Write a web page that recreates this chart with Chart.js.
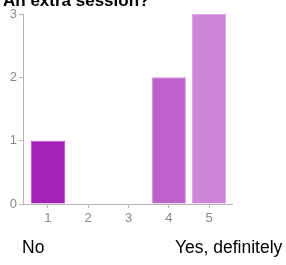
<!DOCTYPE html>
<html>
<head>
<meta charset="utf-8">
<script src="https://cdn.jsdelivr.net/npm/chart.js@4/dist/chart.umd.min.js"></script>
<style>
  body { margin: 0; background: #fff; }
  #wrap { position: relative; width: 286px; height: 265px; overflow: hidden; font-family: "Liberation Sans", Arial, sans-serif; }
  #chart { position: absolute; left: 0; top: 0; }
  .title { position: absolute; left: 3px; top: -9px; font-size: 17px; font-weight: bold; color: #000; white-space: nowrap; }
  .scaleLabel { position: absolute; top: 237px; font-size: 17.5px; color: #000; white-space: nowrap; }
</style>
</head>
<body>
<div id="wrap">
  <canvas id="chart" width="286" height="265"></canvas>
  <div class="title">An extra session?</div>
  <div class="scaleLabel" style="left:22px">No</div>
  <div class="scaleLabel" style="left:175px">Yes, definitely</div>
</div>
<script>
var categories = [1, 2, 3, 4, 5];
var counts = [1, 0, 0, 2, 3];
var yTicks = [0, 1, 2, 3];
var barColors = ["#a421b5", "#ae3bbe", "#b64fc4", "#bd62ca", "#cd86d7"];
var barBorders = ["#b853c6", "#bf66cc", "#c576d0", "#cf8ad7", "#dca6e2"];

var points = categories.map(function (c, i) { return { x: c, y: counts[i] }; });

var ctx = document.getElementById("chart").getContext("2d");
new Chart(ctx, {
    type: "bar",
    data: {
        datasets: [{
            data: points,
            backgroundColor: barColors,
            borderColor: barBorders,
            borderWidth: 1,
            barPercentage: 0.85,
            categoryPercentage: 1
        }]
    },
    options: {
        responsive: false,
        animation: false,
        layout: { padding: { top: 14, right: 54, left: 0, bottom: 0 } },
        plugins: { legend: { display: false }, tooltip: { enabled: false } },
        scales: {
            x: {
                type: "linear",
                offset: false,
                min: 0.38,
                max: 5.57,
                afterBuildTicks: function (scale) {
                    scale.ticks = categories.map(function (c) { return { value: c }; });
                },
                afterFit: function (scale) { scale.height = 61; },
                grid: { offset: false, drawOnChartArea: false, tickLength: 4, color: "#b5b5b5" },
                border: { color: "#b5b5b5" },
                ticks: { color: "#888", font: { family: "Liberation Sans", size: 13 }, padding: 3, autoSkip: false }
            },
            y: {
                min: 0,
                max: 3,
                afterBuildTicks: function (scale) {
                    scale.ticks = yTicks.map(function (v) { return { value: v }; });
                },
                afterFit: function (scale) { scale.width = 23; },
                grid: { drawOnChartArea: false, tickLength: 4, color: "#b5b5b5" },
                border: { color: "#b5b5b5" },
                ticks: { color: "#888", font: { family: "Liberation Sans", size: 13 }, padding: 2 }
            }
        }
    }
});
</script>
</body>
</html>
